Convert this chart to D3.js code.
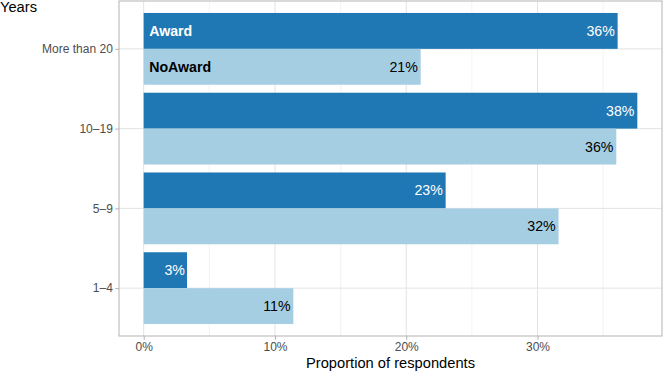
<!DOCTYPE html>
<html><head><meta charset="utf-8">
<script src="https://cdn.jsdelivr.net/npm/d3@7"></script>
<style>
body{margin:0;background:#fff;}
svg{display:block;font-family:"Liberation Sans",Arial,Helvetica,sans-serif;}
</style></head>
<body>
<svg id="chart" width="664" height="375"></svg>
<script>
const categories = ["More than 20", "10–19", "5–9", "1–4"];
const seriesNames = ["Award", "NoAward"];
const award = [0.361, 0.376, 0.230, 0.033];
const noAward = [0.211, 0.360, 0.316, 0.114];
const xTicks = [0, 0.1, 0.2, 0.3];
const xMinor = [0.05, 0.15, 0.25, 0.35];
const colors = ["#1F78B4", "#A6CEE3"];
const textColors = ["#ffffff", "#000000"];

const svg = d3.select("#chart");
const L = 119, R = 662, T = 1, B = 336;

const maxV = d3.max(award.concat(noAward));
const pad = maxV * 0.05;
const x = d3.scaleLinear().domain([-pad, maxV + pad]).range([L, R]);
const y = d3.scalePoint().domain(categories).range([T, B]).padding(0.6);
const step = y.step();
const sub = d3.scaleBand().domain(seriesNames).range([-0.45 * step, 0.45 * step]);

// grid
const g = svg.append("g");
g.selectAll(".minor").data(xMinor).join("line")
  .attr("x1", d => x(d)).attr("x2", d => x(d)).attr("y1", T).attr("y2", B)
  .attr("stroke", "#ebebeb").attr("stroke-width", 0.6);
g.selectAll(".major").data(xTicks).join("line")
  .attr("x1", d => x(d)).attr("x2", d => x(d)).attr("y1", T).attr("y2", B)
  .attr("stroke", "#e3e3e3").attr("stroke-width", 1);
g.selectAll(".hmajor").data(categories).join("line")
  .attr("x1", L).attr("x2", R).attr("y1", d => y(d)).attr("y2", d => y(d))
  .attr("stroke", "#e3e3e3").attr("stroke-width", 1);

// bars
const data = [];
categories.forEach((c, i) => {
  data.push({cat: c, s: 0, v: award[i]});
  data.push({cat: c, s: 1, v: noAward[i]});
});
svg.append("g").selectAll("rect").data(data).join("rect")
  .attr("x", x(0))
  .attr("y", d => y(d.cat) + sub(seriesNames[d.s]))
  .attr("width", d => x(d.v) - x(0))
  .attr("height", sub.bandwidth())
  .attr("fill", d => colors[d.s]);

// value labels
const fmt = d3.format(".0%");
const lab = svg.append("g").selectAll("text").data(data).join("text")
  .attr("y", d => y(d.cat) + sub(seriesNames[d.s]) + sub.bandwidth() / 2)
  .attr("dy", "0.35em")
  .attr("text-anchor", "end")
  .attr("font-size", "14.2px")
  .attr("fill", d => textColors[d.s])
  .text(d => fmt(d.v));
lab.attr("x", function(d) { return x(d.v) - 0.1 * this.getComputedTextLength(); });

// series labels in first group
svg.append("g").selectAll("text").data(seriesNames).join("text")
  .attr("x", x(0) + 5.5)
  .attr("y", d => y(categories[0]) + sub(d) + sub.bandwidth() / 2)
  .attr("dy", "0.35em")
  .attr("font-size", "14.2px")
  .attr("font-weight", "bold")
  .attr("fill", (d, i) => textColors[i])
  .text(d => d);

// panel border
svg.append("rect").attr("x", L).attr("y", T).attr("width", R - L).attr("height", B - T)
  .attr("fill", "none").attr("stroke", "#b3b3b3").attr("stroke-width", 1);

// axes
const xAxis = svg.append("g").attr("transform", `translate(0,${B})`)
  .call(d3.axisBottom(x).tickValues(xTicks).tickFormat(fmt).tickSize(3.7).tickPadding(3));
xAxis.select(".domain").remove();
xAxis.selectAll("line").attr("stroke", "#b3b3b3");
xAxis.selectAll("text").attr("fill", "#4d4d4d").attr("font-size", "12px").attr("font-family", "Liberation Sans, Arial, sans-serif");

const yAxis = svg.append("g").attr("transform", `translate(${L},0)`)
  .call(d3.axisLeft(y).tickSize(3.7).tickPadding(2.5));
yAxis.select(".domain").remove();
yAxis.selectAll("line").attr("stroke", "#b3b3b3");
yAxis.selectAll("text").attr("fill", "#4d4d4d").attr("font-size", "12px").attr("font-family", "Liberation Sans, Arial, sans-serif");

// titles
svg.append("text").attr("x", 0).attr("y", 12).attr("font-size", "14.7px").attr("fill", "#000").text("Years");
svg.append("text").attr("x", (L + R) / 2).attr("y", 368).attr("text-anchor", "middle")
  .attr("font-size", "14.7px").attr("fill", "#000").text("Proportion of respondents");
</script>
</body></html>
